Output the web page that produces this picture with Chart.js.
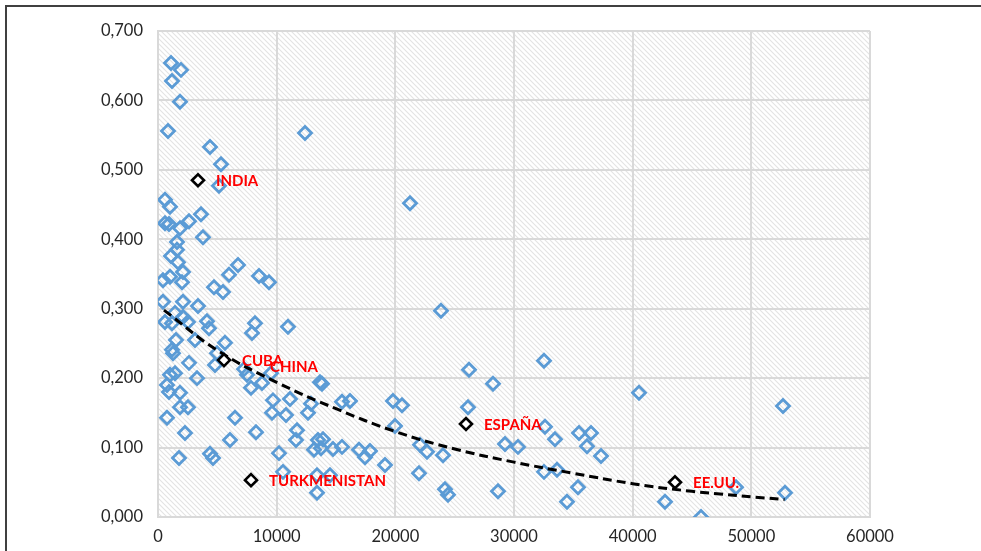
<!DOCTYPE html>
<html>
<head>
<meta charset="utf-8">
<script src="https://cdn.jsdelivr.net/npm/chart.js@4.4.1/dist/chart.umd.min.js"></script>
<style>
  html, body { margin: 0; padding: 0; background: #fff; }
  #wrap { width: 981px; height: 551px; position: relative; }
</style>
</head>
<body>
<div id="wrap"><canvas id="chart"></canvas></div>
<script>
// ---------------------------- Data ---------------------------------------
// GDP per capita (x) and inequality index (y) for every country
const gdpPerCapita = [
  1096, 1938, 1180, 1854, 843, 4382, 5309, 5140, 12388, 21236,
  590, 1011, 590, 927, 1854, 2612, 3624, 3792, 1601, 1601,
  1096, 1685, 2107, 421, 1011, 2022, 6742, 5983, 8511, 9354,
  4719, 5478, 421, 2107, 3371, 1433, 590, 1180, 2107, 2528,
  4129, 4298, 8174, 7921, 10955, 23848, 1517, 1180, 1264, 3118,
  5646, 4972, 4803, 2612, 1011, 1433, 758, 927, 1854, 3287,
  1854, 2528, 758, 2275, 1770, 4382, 4635, 6067, 6489, 8258,
  7837, 7500, 7247, 8764, 9523, 9691, 9607, 10197, 10787, 11124,
  11714, 11629, 10534, 12641, 12893, 13652, 13820, 13146, 13736, 13483,
  13905, 14747, 15506, 13399, 13399, 14494, 15506, 16180, 16938, 17444,
  17865, 19129, 19803, 20562, 19972, 22079, 22669, 24017, 21994, 24185,
  24438, 26208, 26124, 28230, 29242, 30337, 28652, 32528, 32612, 33455,
  32528, 33624, 35393, 34466, 35478, 36489, 36152, 37332, 40534, 42725,
  52669, 48708, 52838, 45759
];
const indexValues = [
  0.654, 0.644, 0.628, 0.598, 0.556, 0.533, 0.508, 0.477, 0.553, 0.452,
  0.457, 0.447, 0.423, 0.422, 0.416, 0.426, 0.436, 0.403, 0.396, 0.385,
  0.376, 0.367, 0.353, 0.341, 0.346, 0.338, 0.363, 0.349, 0.347, 0.338,
  0.331, 0.324, 0.310, 0.310, 0.304, 0.294, 0.281, 0.279, 0.288, 0.281,
  0.282, 0.272, 0.279, 0.265, 0.274, 0.297, 0.255, 0.241, 0.236, 0.255,
  0.251, 0.236, 0.219, 0.222, 0.205, 0.207, 0.190, 0.180, 0.179, 0.200,
  0.158, 0.158, 0.143, 0.121, 0.085, 0.091, 0.085, 0.111, 0.143, 0.122,
  0.186, 0.205, 0.213, 0.193, 0.207, 0.168, 0.150, 0.092, 0.147, 0.170,
  0.125, 0.111, 0.065, 0.150, 0.163, 0.194, 0.192, 0.097, 0.099, 0.111,
  0.112, 0.098, 0.101, 0.060, 0.035, 0.060, 0.166, 0.167, 0.097, 0.086,
  0.095, 0.075, 0.167, 0.161, 0.131, 0.104, 0.094, 0.089, 0.063, 0.040,
  0.032, 0.212, 0.158, 0.192, 0.105, 0.101, 0.037, 0.225, 0.130, 0.112,
  0.065, 0.068, 0.043, 0.022, 0.121, 0.121, 0.102, 0.088, 0.179, 0.022,
  0.160, 0.043, 0.035, 0.000
];

// Highlighted countries (black markers)
const markedNames = ['INDIA', 'CUBA', 'TURKMENISTAN', 'ESPAÑA', 'EE.UU.'];
const markedX = [3371, 5562, 7837, 25955, 43568];
const markedY = [0.485, 0.226, 0.053, 0.134, 0.050];

// Red labels (CHINA has a label but no black marker)
const labelNames = ['INDIA', 'CUBA', 'CHINA', 'TURKMENISTAN', 'ESPAÑA', 'EE.UU.'];
const labelX = [3371, 5562, 7921, 7837, 25955, 43568];
const labelY = [0.485, 0.226, 0.217, 0.053, 0.134, 0.050];

// Trend line
const trendX = [500, 5000, 10000, 15000, 20000, 25000, 30000, 35000, 40000, 45000, 52800];
const trendY = [0.298, 0.240, 0.194, 0.156, 0.123, 0.098, 0.079, 0.063, 0.048, 0.037, 0.025];

// Axis ticks
const xTicks = [0, 10000, 20000, 30000, 40000, 50000, 60000];
const yTicks = [0, 0.1, 0.2, 0.3, 0.4, 0.5, 0.6, 0.7];

// ---------------------------- Helpers -------------------------------------
function zip(xs, ys) {
  return xs.map((x, i) => ({ x, y: ys[i] }));
}

function makeHatch() {
  const c = document.createElement('canvas');
  c.width = 5; c.height = 5;
  const g = c.getContext('2d');
  g.fillStyle = '#ffffff';
  g.fillRect(0, 0, 5, 5);
  g.strokeStyle = '#e3e3e3';
  g.lineWidth = 1.1;
  g.beginPath();
  g.moveTo(-1, -1); g.lineTo(6, 6);
  g.moveTo(-6, -1); g.lineTo(1, 6);
  g.moveTo(4, -1); g.lineTo(11, 6);
  g.stroke();
  return c;
}

// ---------------------------- Plugins -------------------------------------
const backdrop = {
  id: 'backdrop',
  beforeDraw(chart) {
    const { ctx, chartArea: a } = chart;
    ctx.save();
    // outer frame (top and left edges visible)
    ctx.strokeStyle = '#404040';
    ctx.lineWidth = 2;
    ctx.beginPath();
    ctx.moveTo(6, 560); ctx.lineTo(6, 6); ctx.lineTo(990, 6);
    ctx.stroke();
    // hatched plot area
    ctx.fillStyle = ctx.createPattern(makeHatch(), 'repeat');
    ctx.fillRect(a.left, a.top, a.right - a.left, a.bottom - a.top);
    ctx.restore();
  },
};

const countryLabels = {
  id: 'countryLabels',
  afterDatasetsDraw(chart) {
    const { ctx, scales } = chart;
    ctx.save();
    ctx.font = 'bold 15px Lato, "Open Sans", sans-serif';
    ctx.fillStyle = '#ff0000';
    ctx.textAlign = 'left';
    ctx.textBaseline = 'middle';
    labelNames.forEach((name, i) => {
      const px = scales.x.getPixelForValue(labelX[i]);
      const py = scales.y.getPixelForValue(labelY[i]);
      ctx.fillText(name, px + 18, py + 1);
    });
    ctx.restore();
  },
};

// ---------------------------- Chart ---------------------------------------
new Chart(document.getElementById('chart').getContext('2d'), {
  type: 'scatter',
  data: {
    datasets: [
      {
        label: 'Países',
        data: zip(gdpPerCapita, indexValues),
        pointStyle: 'rectRot',
        pointRadius: 6.5,
        borderWidth: 2.8,
        borderColor: '#5b9bd5',
        backgroundColor: 'rgba(0,0,0,0)',
        order: 3,
      },
      {
        label: 'Tendencia',
        type: 'line',
        data: zip(trendX, trendY),
        borderColor: '#000000',
        borderWidth: 3,
        borderDash: [9, 5],
        pointRadius: 0,
        tension: 0.4,
        fill: false,
        order: 2,
      },
      {
        label: 'Destacados',
        data: zip(markedX, markedY),
        pointStyle: 'rectRot',
        pointRadius: 6,
        borderWidth: 2.6,
        borderColor: '#000000',
        backgroundColor: '#ffffff',
        order: 1,
      },
    ],
  },
  options: {
    responsive: true,
    maintainAspectRatio: false,
    animation: false,
    layout: { padding: { top: 31, right: 111, bottom: 0, left: 0 } },
    plugins: {
      legend: { display: false },
      tooltip: { enabled: false },
    },
    scales: {
      x: {
        type: 'linear',
        min: 0,
        max: 60000,
        afterFit: (s) => { s.height = 34; },
        afterBuildTicks: (s) => { s.ticks = xTicks.map((v) => ({ value: v })); },
        grid: { color: '#d9d9d9', lineWidth: 2, drawTicks: false },
        border: { display: true, color: '#d9d9d9', width: 2 },
        ticks: {
          color: '#262626',
          padding: 10,
          maxRotation: 0,
          font: { family: 'Lato, "Open Sans", sans-serif', size: 16.5 },
          callback: (v) => String(v),
        },
      },
      y: {
        type: 'linear',
        min: 0,
        max: 0.7,
        afterFit: (s) => { s.width = 158; },
        afterBuildTicks: (s) => { s.ticks = yTicks.map((v) => ({ value: v })); },
        grid: { color: '#d9d9d9', lineWidth: 2, drawTicks: false },
        border: { display: true, color: '#d9d9d9', width: 2 },
        ticks: {
          color: '#262626',
          padding: 15,
          font: { family: 'Lato, "Open Sans", sans-serif', size: 16.5 },
          callback: (v) => Number(v).toFixed(3).replace('.', ','),
        },
      },
    },
  },
  plugins: [backdrop, countryLabels],
});
</script>
</body>
</html>
